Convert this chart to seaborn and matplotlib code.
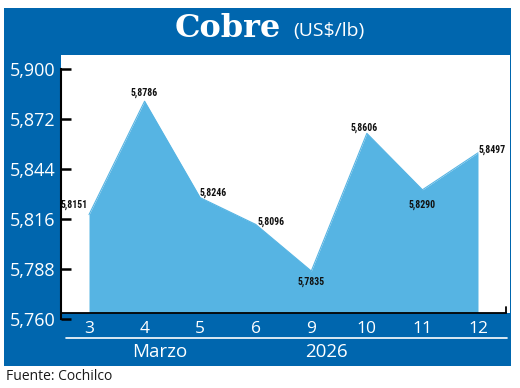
import matplotlib
matplotlib.use("Agg")
import matplotlib.pyplot as plt
from matplotlib.patches import Rectangle
from matplotlib.lines import Line2D
import numpy as np
import pandas as pd
import seaborn as sns

# ---- data ----
days = ["3", "4", "5", "6", "9", "10", "11", "12"]
prices = [5.8151, 5.8786, 5.8246, 5.8096, 5.7835, 5.8606, 5.8290, 5.8497]
ytick_values = [5.760, 5.788, 5.816, 5.844, 5.872, 5.900]
ytick_labels = ["5,760", "5,788", "5,816", "5,844", "5,872", "5,900"]
month_label = "Marzo"
year_label = "2026"
title_main = "Cobre"
title_unit = r"(US\$/lb)"
source = "Fuente: Cochilco"

BLUE = "#0066AE"
FILL = "#56B4E3"

sns.set_style("white")
plt.rcParams["font.family"] = ["Open Sans", "DejaVu Sans"]

W, H = 520, 388
fig = plt.figure(figsize=(W / 100, H / 100), dpi=100)
fig.patch.set_facecolor("white")


def px_rect(x0, y0, x1, y1):
    return [x0 / W, 1 - y1 / H, (x1 - x0) / W, (y1 - y0) / H]


frame = Rectangle((4 / W, 1 - 366 / H), 507 / W, 358 / H,
                  transform=fig.transFigure, facecolor=BLUE, edgecolor="none", zorder=-5)
fig.add_artist(frame)

df = pd.DataFrame({"pos": np.arange(len(days)), "price": prices, "day": days})

# data axes
ax = fig.add_axes(px_rect(61, 55, 510, 313))
ax.set_facecolor("white")
ax.set_zorder(1)
sns.lineplot(data=df, x="pos", y="price", ax=ax, color=FILL, lw=0.8)
ax.fill_between(df["pos"], df["price"], 5.760, color=FILL, lw=0)
ax.set_xlim(-0.504, 7.576)
ax.set_ylim(5.760, 5.90448)
for s in ["left", "top", "right"]:
    ax.spines[s].set_visible(False)
ax.spines["bottom"].set_color("black")
ax.spines["bottom"].set_linewidth(1.3)
ax.spines["bottom"].set_bounds(-0.5, 7.5)
ax.axvline(7.5, ymin=0, ymax=6 / 258, color="black", lw=1.3)
ax.set_yticks([])
ax.set_xticks(df["pos"], df["day"])
ax.tick_params(axis="x", length=0, pad=6, labelcolor="white", labelsize=12.5)
ax.set_xlabel("")
ax.set_ylabel("")

label_family = ["Liberation Sans Narrow", "Noto Sans Condensed", "Noto Sans ExtraCondensed",
                "DejaVu Sans Condensed", "Roboto Condensed", "Liberation Sans"]
offsets = [(-1, 10, "right"), (0, 8, "center"), (-1, 5, "left"), (2, 3, "left"),
           (0, -11, "center"), (-3, 6, "center"), (0, -15, "center"), (1, 3, "left")]
for i, v in enumerate(prices):
    dx, dy, ha = offsets[i]
    ax.annotate(f"{v:.4f}".replace(".", ","), (i, v), xytext=(dx, dy),
                textcoords="offset pixels", ha=ha, va="center",
                fontsize=7, fontweight="bold", fontstretch="condensed",
                color="#111111", family=label_family)

# scale axes (y axis)
ax_s = fig.add_axes(px_rect(61, 61, 510, 319))
ax_s.set_zorder(2)
ax_s.patch.set_visible(False)
ax_s.set_ylim(5.760, 5.90448)
ax_s.set_xlim(0, 1)
for s in ["bottom", "top", "right"]:
    ax_s.spines[s].set_visible(False)
ax_s.spines["left"].set_color("black")
ax_s.spines["left"].set_linewidth(1.5)
ax_s.spines["left"].set_bounds(5.760, 5.900)
ax_s.set_xticks([])
ax_s.set_yticks(ytick_values, ytick_labels)
ax_s.tick_params(axis="y", direction="in", length=7.5, width=1.8, color="black",
                 pad=4, labelcolor="white", labelsize=13, left=True)

# title
fig.text(175 / W, 1 - 37 / H, title_main, family="DejaVu Serif", fontweight="bold",
         fontsize=23, color="white", ha="left", va="baseline")
fig.text(293 / W, 1 - 36 / H, title_unit, fontsize=14, color="white",
         ha="left", va="baseline")

# bottom band
fig.add_artist(Line2D([66 / W, 507 / W], [1 - 338 / H, 1 - 338 / H],
                      transform=fig.transFigure, color="white", lw=1.2))
fig.text(160 / W, 1 - 352 / H, month_label, fontsize=13.5, color="white",
         ha="center", va="center")
fig.text(326 / W, 1 - 352 / H, year_label, fontsize=13.5, color="white",
         ha="center", va="center")
fig.text(6 / W, 1 - 377 / H, source, fontsize=10, color="#1a1a1a",
         ha="left", va="center")

fig.savefig("out.png", dpi=100)
